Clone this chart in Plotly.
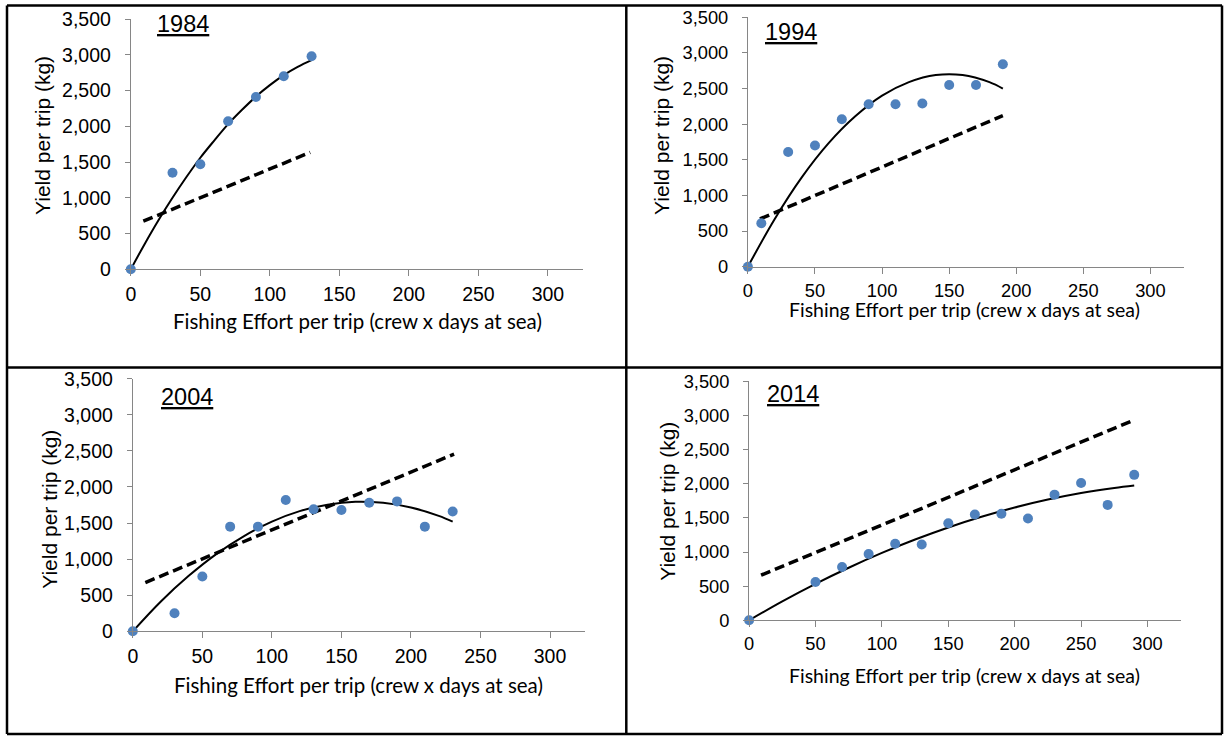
import plotly.graph_objects as go

W, H = 1225, 736

# ---------------- data ----------------
years = ["1984", "1994", "2004", "2014"]

effort_1984 = [0, 30, 50, 70, 90, 110, 130]
yield_1984 = [0, 1350, 1470, 2070, 2410, 2700, 2980]
trend_x_1984 = [0, 10, 20, 30, 40, 50, 60, 70, 80, 90, 100, 110, 120, 130]
trend_y_1984 = [0, 355, 690, 1000, 1290, 1560, 1800, 2030, 2230, 2415, 2575, 2715, 2830, 2925]
ref_x_1984 = [9, 129]
ref_y_1984 = [672, 1635]

effort_1994 = [0, 10, 30, 50, 70, 90, 110, 130, 150, 170, 190]
yield_1994 = [0, 610, 1610, 1700, 2070, 2280, 2280, 2290, 2550, 2550, 2840]
trend_x_1994 = [0, 20, 40, 60, 80, 100, 120, 140, 160, 180, 190]
trend_y_1994 = [0, 670, 1250, 1730, 2110, 2400, 2590, 2690, 2690, 2590, 2500]
ref_x_1994 = [9, 190]
ref_y_1994 = [670, 2120]

effort_2004 = [0, 30, 50, 70, 90, 110, 130, 150, 170, 190, 210, 230]
yield_2004 = [0, 250, 760, 1450, 1450, 1820, 1690, 1680, 1780, 1800, 1450, 1660]
trend_x_2004 = [0, 20, 40, 60, 80, 100, 120, 140, 160, 180, 200, 220, 230]
trend_y_2004 = [0, 410, 765, 1070, 1320, 1520, 1665, 1755, 1795, 1780, 1715, 1600, 1520]
ref_x_2004 = [9, 231]
ref_y_2004 = [675, 2455]

effort_2014 = [0, 50, 70, 90, 110, 130, 150, 170, 190, 210, 230, 250, 270, 290]
yield_2014 = [0, 560, 780, 970, 1120, 1110, 1420, 1550, 1560, 1490, 1840, 2010, 1690, 2130]
trend_x_2014 = [0, 25, 50, 75, 100, 125, 150, 175, 200, 225, 250, 275, 290]
trend_y_2014 = [0, 277, 534, 770, 987, 1183, 1360, 1516, 1652, 1768, 1864, 1939, 1975]
ref_x_2014 = [9, 289]
ref_y_2014 = [660, 2925]

x_ticks = [0, 50, 100, 150, 200, 250, 300]
y_ticks = [0, 500, 1000, 1500, 2000, 2500, 3000, 3500]
x_title = "Fishing Effort per trip (crew x days at sea)"
y_title = "Yield per trip (kg)"

panels = [
    (effort_1984, yield_1984, trend_x_1984, trend_y_1984, ref_x_1984, ref_y_1984),
    (effort_1994, yield_1994, trend_x_1994, trend_y_1994, ref_x_1994, ref_y_1994),
    (effort_2004, yield_2004, trend_x_2004, trend_y_2004, ref_x_2004, ref_y_2004),
    (effort_2014, yield_2014, trend_x_2014, trend_y_2014, ref_x_2014, ref_y_2014),
]

# ---------------- layout geometry (pixels) ----------------
# (x0, x_end, y_zero, y_top)
geom = [
    (130.8, 582.7, 269.3, 19.0),
    (747.9, 1184.0, 266.7, 17.3),
    (132.8, 584.8, 631.3, 378.7),
    (749.1, 1180.7, 620.3, 381.3),
]
title_pos = [(182.5, 24.5), (791, 32), (186.5, 397), (793, 394.5)]
ytitle_pos = [(43, 136), (662, 136), (48.8, 509), (666.8, 501)]
xtitle_pos = [(357.7, 321), (964.5, 309.5), (358, 684.7), (964, 675)]
tick_sizes = [19.5, 18.3, 19.5, 18.3]
xtitle_sizes = [20.5, 19.5, 20.5, 19.5]

def px(x):
    return x / W

def py(y):
    return 1 - y / H

fig = go.Figure()
axis_gray = "#868686"

layout = dict(
    width=W, height=H,
    margin=dict(l=0, r=0, t=0, b=0, autoexpand=False),
    paper_bgcolor="white", plot_bgcolor="white",
    showlegend=False,
)

annotations = []
for i, (ex, yv, tx, ty, rx, ry) in enumerate(panels):
    n = "" if i == 0 else str(i + 1)
    xa, ya = "x" + n, "y" + n
    tick_font = dict(family="Liberation Sans, Arial, sans-serif", size=tick_sizes[i], color="#000000")
    fig.add_trace(go.Scatter(x=rx, y=ry, xaxis=xa, yaxis=ya, mode="lines",
                             line=dict(color="black", width=3.5, dash="10px,5px"),
                             hoverinfo="skip"))
    fig.add_trace(go.Scatter(x=tx, y=ty, xaxis=xa, yaxis=ya, mode="lines",
                             line=dict(color="black", width=2, shape="spline"),
                             hoverinfo="skip"))
    fig.add_trace(go.Scatter(x=ex, y=yv, xaxis=xa, yaxis=ya, mode="markers",
                             marker=dict(color="#4F81BD", size=10),
                             cliponaxis=False))
    x0, x1, yz, yt = geom[i]
    layout["xaxis" + n] = dict(
        domain=[px(x0), px(x1)], range=[0, 325], anchor=ya,
        tickvals=x_ticks, ticks="outside", ticklen=6, tickcolor=axis_gray,
        showline=True, linecolor=axis_gray, linewidth=1,
        showgrid=False, zeroline=False, tickfont=tick_font,
        ticklabelstandoff=1, fixedrange=True, automargin=False,
    )
    layout["yaxis" + n] = dict(
        domain=[py(yz), py(yt)], range=[0, 3500], anchor=xa,
        tickvals=y_ticks, tickformat=",", ticks="outside", ticklen=5,
        tickcolor=axis_gray, showline=True, linecolor=axis_gray, linewidth=1,
        showgrid=False, zeroline=False, tickfont=tick_font,
        ticklabelstandoff=10, fixedrange=True, automargin=False,
    )
    tx_, ty_ = title_pos[i]
    annotations.append(dict(text="<u>" + years[i] + "</u>", x=px(tx_), y=py(ty_),
                            xref="paper", yref="paper", showarrow=False,
                            xanchor="center", yanchor="middle",
                            font=dict(family="Liberation Sans, Arial, sans-serif", size=23.5, color="black")))
    yx, yy = ytitle_pos[i]
    annotations.append(dict(text=y_title, x=px(yx), y=py(yy), xref="paper", yref="paper",
                            showarrow=False, textangle=-90, xanchor="center", yanchor="middle",
                            font=dict(family="Liberation Sans, Arial, sans-serif", size=21, color="black")))
    xx, xy = xtitle_pos[i]
    annotations.append(dict(text=x_title, x=px(xx), y=py(xy), xref="paper", yref="paper",
                            showarrow=False, xanchor="center", yanchor="middle",
                            font=dict(family="Lato, sans-serif", size=xtitle_sizes[i], color="black")))

layout["annotations"] = annotations

# frame lines (pixels)
L, T, R, B = 7, 5.5, 1222, 734
MX, MY = 626.3, 367.5
shapes = []
for (a, b, c, d) in [(L, T, R, T), (L, B, R, B), (L, T, L, B), (R, T, R, B),
                     (MX, T, MX, B), (L, MY, R, MY)]:
    shapes.append(dict(type="line", xref="paper", yref="paper",
                       x0=px(a), y0=py(b), x1=px(c), y1=py(d),
                       line=dict(color="black", width=2.5)))
layout["shapes"] = shapes

fig.update_layout(**layout)
fig.write_html("out.html", config={"displayModeBar": False},
               post_script="document.body.style.margin='0';document.body.style.overflow='hidden';")
